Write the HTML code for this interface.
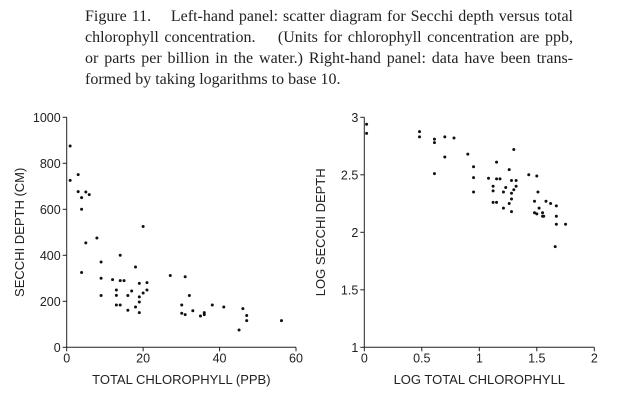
<!DOCTYPE html>
<html><head><meta charset="utf-8"><style>
body{margin:0;width:627px;height:410px;background:#fff;overflow:hidden}
#cap{position:absolute;left:85px;top:6px;width:488px;font-family:"Liberation Serif",serif;font-size:16px;line-height:21px;color:#222}
#cap .j{text-align:justify;text-align-last:justify;white-space:nowrap}
svg{position:absolute;left:0;top:0}
text{font-family:"Liberation Sans",sans-serif;fill:#222}
</style></head><body>
<div id="cap">
<div class="j">Figure 11.&nbsp;&nbsp;&nbsp; Left-hand panel: scatter diagram for Secchi depth versus total</div>
<div class="j">chlorophyll concentration.&nbsp;&nbsp;&nbsp; (Units for chlorophyll concentration are ppb,</div>
<div class="j">or parts per billion in the water.) Right-hand panel: data have been trans-</div>
<div>formed by taking logarithms to base 10.</div>
</div>
<svg id="s" width="627" height="410"></svg>
<script>
const leftX=[0.9,0.9,3,3,3.9,3.9,5,5.9,3.9,5,7.9,9,9,9,12,13,13,13,14,14,14,15,16,16,17,18,18,19,19,19,19,20,20,21,21,27.1,30.1,30.1,31,31,32.1,33,35,36,36,38.1,41.1,45.1,46.1,47.1,47.1,56.2];
const leftY=[875,726,751,677,651,600,675,664,325,454,475,371,300,225,294,249,226,184,184,400,290,290,225,161,245,349,175,278,219,197,151,236,525,281,249,312,184,148,307,142,225,159,136,142,151,184,175,75,168,138,116,116];
const rightX=[0.02,0.02,0.48,0.48,0.61,0.61,0.61,0.70,0.70,0.78,0.90,0.95,0.95,0.95,1.08,1.12,1.12,1.12,1.15,1.15,1.15,1.18,1.21,1.21,1.23,1.26,1.26,1.28,1.28,1.28,1.28,1.30,1.30,1.32,1.32,1.43,1.50,1.51,1.48,1.48,1.50,1.52,1.55,1.55,1.56,1.58,1.62,1.67,1.67,1.67,1.75,1.66];
const rightY=[2.94,2.86,2.875,2.83,2.81,2.78,2.51,2.83,2.655,2.82,2.68,2.57,2.475,2.35,2.47,2.40,2.36,2.26,2.61,2.465,2.26,2.465,2.35,2.21,2.39,2.545,2.25,2.45,2.34,2.29,2.18,2.72,2.37,2.45,2.40,2.50,2.49,2.35,2.27,2.17,2.16,2.21,2.17,2.14,2.14,2.27,2.25,2.23,2.14,2.07,2.07,1.875];
const leftXTicks=[0,20,40,60], leftYTicks=[0,200,400,600,800,1000];
const rightXTicks=[0,0.5,1,1.5,2], rightYTicks=[1,1.5,2,2.5,3];
const s=document.getElementById('s'),NS='http://www.w3.org/2000/svg';
function mk(t,a,p){const e=document.createElementNS(NS,t);for(const k in a)e.setAttribute(k,a[k]);(p||s).appendChild(e);return e;}
function panel(id,x0,x1,xmin,xmax,xs,ys,xt,yt,xl,yl,ytitleX){
 const y0=347.3,y1=117.3,ymin=yt[0],ymax=yt[yt.length-1];
 const sx=v=>x0+(v-xmin)/(xmax-xmin)*(x1-x0), sy=v=>y0-(v-ymin)/(ymax-ymin)*(y0-y1);
 const g=mk('g',{});
 
 
 const xa=mk('line',{x1:x0,x2:x1,y1:y0,y2:y0,stroke:'#222','stroke-width':1},g);
 
 
 const ya=mk('line',{x1:x0,x2:x0,y1:y0,y2:y1,stroke:'#222','stroke-width':1},g);
 
 
 xt.forEach(v=>{mk('line',{x1:sx(v),x2:sx(v),y1:y0,y2:y0+4,stroke:'#222'},g);
  const t=mk('text',{x:sx(v),y:y0+15,'font-size':12.5,'text-anchor':'middle'},g);t.textContent=v;
  
  });
 yt.forEach(v=>{mk('line',{x1:x0-4,x2:x0,y1:sy(v),y2:sy(v),stroke:'#222'},g);
  const t=mk('text',{x:x0-6,y:sy(v)+4.5,'font-size':12.5,'text-anchor':'end'},g);t.textContent=v;
  
  });
 xs.forEach((v,i)=>{const c=mk('circle',{cx:sx(v),cy:sy(ys[i]),r:1.5,fill:'#111'},g);
  
  });
 const xt2=mk('text',{x:(x0+x1)/2,y:384,'font-size':13,'text-anchor':'middle'},g);xt2.textContent=xl;
 
 
 const yt2=mk('text',{x:0,y:0,'font-size':13,'text-anchor':'middle',transform:`translate(${ytitleX},${(y0+y1)/2}) rotate(-90)`},g);yt2.textContent=yl;
 
 
}
panel('left',66.7,296,0,60,leftX,leftY,leftXTicks,leftYTicks,'TOTAL CHLOROPHYLL (PPB)','SECCHI DEPTH (CM)',24);
panel('right',364.3,594.3,0,2,rightX,rightY,rightXTicks,rightYTicks,'LOG TOTAL CHLOROPHYLL','LOG SECCHI DEPTH',325);
</script>
</body></html>
